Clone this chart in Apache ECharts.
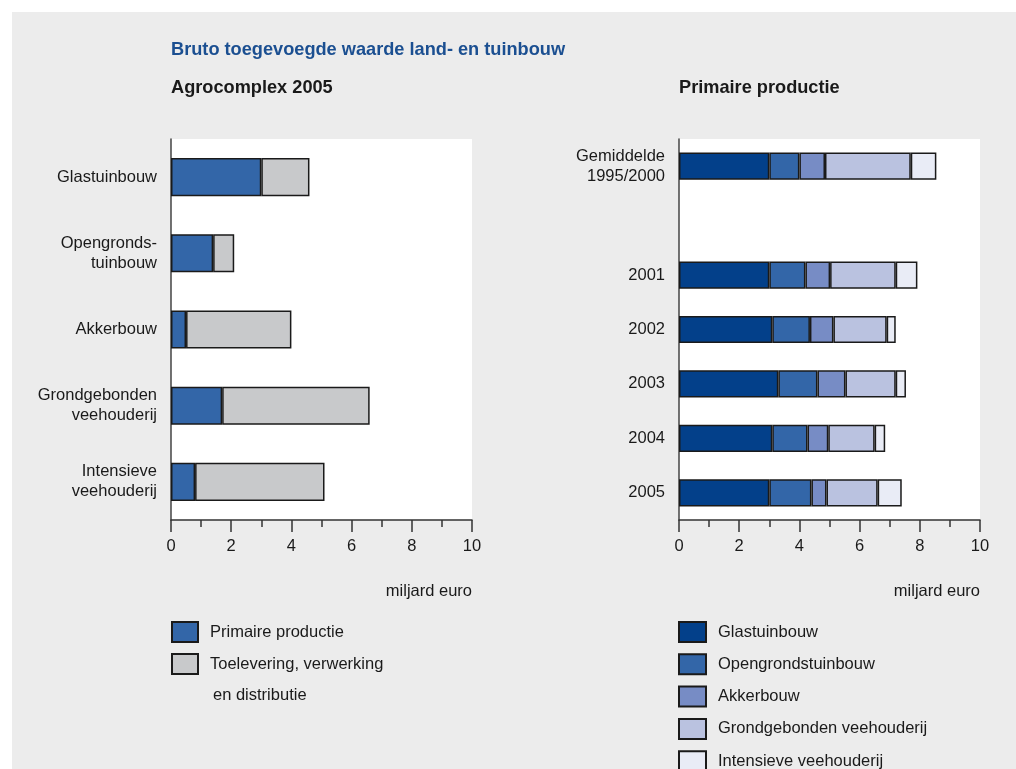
<!DOCTYPE html>
<html>
<head>
<meta charset="utf-8">
<script src="https://cdn.jsdelivr.net/npm/echarts@6/dist/echarts.min.js"></script>
<style>
  html, body { margin: 0; padding: 0; background: #fff; }
  #bg { position: absolute; left: 12px; top: 12px; width: 1004px; height: 757px; background: #ececec; }
  #main { position: absolute; left: 0; top: 0; width: 1016px; height: 769px; }
</style>
</head>
<body>
<div id="bg"></div>
<div id="main"></div>
<script>
// Agrocomplex 2005 (miljard euro)
var sectors = ['Glastuinbouw', 'Opengronds-\ntuinbouw', 'Akkerbouw', 'Grondgebonden\nveehouderij', 'Intensieve\nveehouderij'];
var primair = [3.0, 1.4, 0.5, 1.7, 0.8];
var toelevering = [1.6, 0.7, 3.5, 4.9, 4.3];

// Primaire productie (miljard euro), lege rij tussen gemiddelde en 2001
var jaren = ['Gemiddelde\n1995/2000', '', '2001', '2002', '2003', '2004', '2005'];
var glas = [3.0, null, 3.0, 3.1, 3.3, 3.1, 3.0];
var opengrond = [1.0, null, 1.2, 1.25, 1.3, 1.17, 1.4];
var akker = [0.85, null, 0.82, 0.78, 0.93, 0.69, 0.5];
var grond = [2.85, null, 2.18, 1.77, 1.67, 1.54, 1.7];
var intensief = [0.85, null, 0.72, 0.3, 0.34, 0.35, 0.8];

var font = "'Liberation Sans', Arial, sans-serif";
var fs = 16.5;      // gewone tekst
var fsBold = 18.2;  // koppen
var txt = '#1a1a1a';
var edge = '#1a1a1a';

function valueAxis(idx) {
    return {
        type: 'value', gridIndex: idx, min: 0, max: 10, interval: 2,
        axisLine: { show: true, lineStyle: { color: '#333', width: 1.5 } },
        axisTick: { show: true, length: 12, lineStyle: { color: '#333', width: 1.5 } },
        minorTick: { show: true, splitNumber: 2, length: 7, lineStyle: { color: '#333', width: 1.5 } },
        splitLine: { show: false },
        axisLabel: { color: txt, fontSize: fs, fontFamily: font, margin: 18 }
    };
}

function catAxis(idx, data) {
    return {
        type: 'category', gridIndex: idx, data: data, inverse: true,
        axisLine: { show: true, lineStyle: { color: '#444', width: 1.5 } },
        axisTick: { show: false },
        axisLabel: { color: txt, fontSize: fs, lineHeight: 20, fontFamily: font, margin: 14, interval: 0 }
    };
}

function bar(name, data, color, idx) {
    return {
        name: name, type: 'bar', stack: 'st' + idx,
        xAxisIndex: idx, yAxisIndex: idx,
        barWidth: '50%', data: data,
        itemStyle: { color: color, borderColor: edge, borderWidth: 1.5 },
        emphasis: { disabled: true }
    };
}

var legendText = { color: txt, fontSize: fs, lineHeight: 20, fontFamily: font, padding: [0, 0, 0, 7] };

function kop(text, left, color) {
    return { text: text, left: left, top: 0, padding: 0,
             textStyle: { color: color, fontSize: fsBold, lineHeight: 20, fontWeight: 'bold', fontFamily: font } };
}

var option = {
    animation: false,
    title: [
        Object.assign(kop('Bruto toegevoegde waarde land- en tuinbouw', 171, '#1b4f91'), { top: 40 }),
        Object.assign(kop('Agrocomplex 2005', 171, txt), { top: 78 }),
        Object.assign(kop('Primaire productie', 679, txt), { top: 78 }),
        { text: 'miljard euro', right: 544, top: 581, padding: 0,
          textStyle: { color: txt, fontSize: fs, lineHeight: 20, fontWeight: 'normal', fontFamily: font } },
        { text: 'miljard euro', right: 36, top: 581, padding: 0,
          textStyle: { color: txt, fontSize: fs, lineHeight: 20, fontWeight: 'normal', fontFamily: font } }
    ],
    grid: [
        { left: 171, top: 139, width: 301, height: 381, show: true, backgroundColor: '#fff', borderWidth: 0 },
        { left: 679, top: 139, width: 301, height: 381, show: true, backgroundColor: '#fff', borderWidth: 0 }
    ],
    xAxis: [valueAxis(0), valueAxis(1)],
    yAxis: [catAxis(0, sectors), catAxis(1, jaren)],
    legend: [
        {
            orient: 'vertical', left: 171, top: 621, height: 200, padding: 0,
            itemWidth: 26, itemHeight: 20, itemGap: 10, selectedMode: false, icon: 'rect',
            data: ['Primaire productie', 'Toelevering, verwerking en distributie'],
            formatter: function (n) { return n.indexOf('Toelevering') === 0 ? 'Toelevering, verwerking' : n; },
            textStyle: legendText
        },
        {
            orient: 'vertical', left: 678, top: 621, height: 200, padding: 0,
            itemWidth: 27, itemHeight: 20, itemGap: 10.3, selectedMode: false, icon: 'rect',
            data: ['Glastuinbouw', 'Opengrondstuinbouw', 'Akkerbouw', 'Grondgebonden veehouderij', 'Intensieve veehouderij'],
            textStyle: legendText
        }
    ],
    graphic: [
        { type: 'text', left: 213, top: 685,
          style: { text: 'en distributie', fill: txt, fontSize: fs, lineHeight: 20, fontFamily: font } }
    ],
    series: [
        bar('Primaire productie', primair, '#3366a8', 0),
        bar('Toelevering, verwerking en distributie', toelevering, '#c8c9cb', 0),
        bar('Glastuinbouw', glas, '#03408a', 1),
        bar('Opengrondstuinbouw', opengrond, '#3366a8', 1),
        bar('Akkerbouw', akker, '#778cc5', 1),
        bar('Grondgebonden veehouderij', grond, '#bac2e0', 1),
        bar('Intensieve veehouderij', intensief, '#e9ecf6', 1)
    ]
};

var myChart = echarts.init(document.getElementById('main'));
myChart.setOption(option);
</script>
</body>
</html>
